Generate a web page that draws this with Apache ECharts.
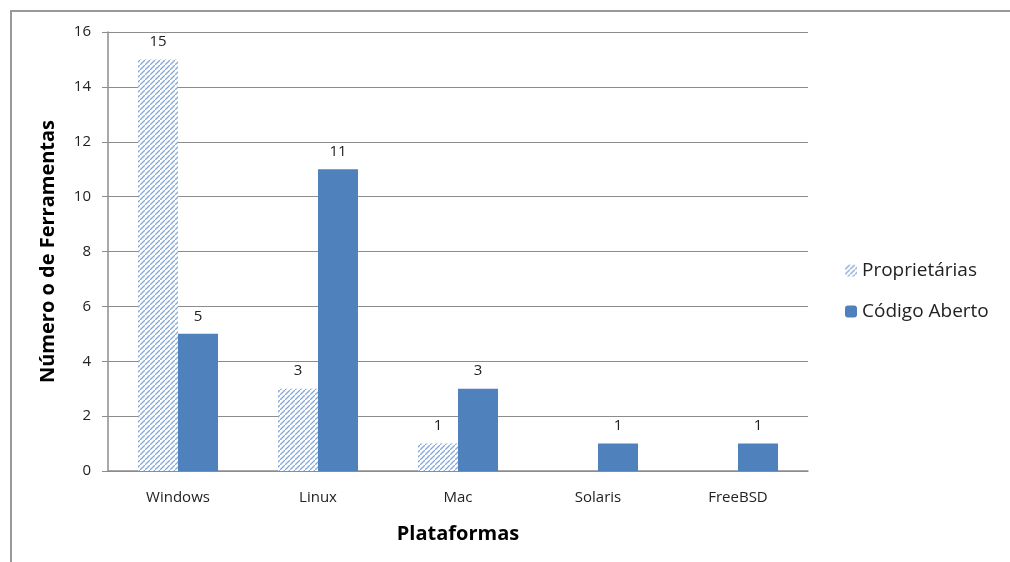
<!DOCTYPE html>
<html>
<head>
<meta charset="utf-8">
<script src="https://cdn.jsdelivr.net/npm/echarts@6/dist/echarts.min.js"></script>
<style>
  html, body { margin: 0; padding: 0; background: #fff; }
  #frame {
    position: absolute; left: 10px; top: 10px; right: 0; bottom: 0;
    border-left: 2px solid #999; border-top: 2px solid #999;
  }
  #chart { position: absolute; left: 0; top: 0; width: 1010px; height: 562px; }
</style>
</head>
<body>
<div id="frame"></div>
<div id="chart"></div>
<script>
  const categories = ['Windows', 'Linux', 'Mac', 'Solaris', 'FreeBSD']
  const proprietarias = [15, 3, 1, null, null]
  const codigoAberto = [5, 11, 3, 1, 1]
  const yTicks = { min: 0, max: 16, interval: 2 }

  // hatch pattern for the first series
  function makeHatch () {
    const s = 5
    const c = document.createElement('canvas')
    c.width = s
    c.height = s
    const ctx = c.getContext('2d')
    ctx.fillStyle = '#ffffff'
    ctx.fillRect(0, 0, s, s)
    ctx.strokeStyle = '#85a8d6'
    ctx.lineWidth = 1.3
    ctx.beginPath()
    ctx.moveTo(-1, s + 1); ctx.lineTo(s + 1, -1)
    ctx.moveTo(-s - 1, 1); ctx.lineTo(1, -s - 1)
    ctx.moveTo(s - 1, 2 * s + 1); ctx.lineTo(2 * s + 1, s - 1)
    ctx.stroke()
    return c
  }

  const font = '"Open Sans", Lato, sans-serif'
  const mychart = echarts.init(document.getElementById('chart'))
  const labelStyle = { show: true, position: 'top', color: '#222', fontSize: 15, fontFamily: font, distance: 10 }

  mychart.setOption({
    animation: false,
    textStyle: { fontFamily: font },
    grid: { left: 108, right: 202, top: 32, bottom: 91 },
    legend: {
      orient: 'vertical',
      left: 840,
      top: 256,
      itemWidth: 12,
      itemHeight: 12,
      itemGap: 22,
      textStyle: { fontSize: 19, color: '#222', fontFamily: font },
      data: ['Proprietárias', 'Código Aberto']
    },
    xAxis: {
      type: 'category',
      data: categories,
      name: 'Plataformas',
      nameLocation: 'middle',
      nameGap: 53,
      nameTextStyle: { fontSize: 20, fontWeight: 'bold', color: '#000' },
      axisLine: { lineStyle: { color: '#8c8c8c', width: 1.5 } },
      axisTick: { length: 7, lineStyle: { color: '#8c8c8c' } },
      axisLabel: { color: '#222', fontSize: 15, margin: 19 }
    },
    yAxis: {
      type: 'value',
      min: yTicks.min,
      max: yTicks.max,
      interval: yTicks.interval,
      name: 'Número o de Ferramentas',
      nameLocation: 'middle',
      nameGap: 50,
      nameTextStyle: { fontSize: 20, fontWeight: 'bold', color: '#000' },
      axisLine: { show: true, lineStyle: { color: '#8c8c8c', width: 1.5 } },
      axisTick: { show: true, length: 6, lineStyle: { color: '#8c8c8c' } },
      axisLabel: { color: '#222', fontSize: 15, margin: 17 },
      splitLine: { lineStyle: { color: '#8c8c8c', width: 1 } }
    },
    series: [
      {
        name: 'Proprietárias',
        type: 'bar',
        data: proprietarias,
        barWidth: 40,
        barGap: '0%',
        itemStyle: { color: { image: makeHatch(), repeat: 'repeat' } },
        label: labelStyle
      },
      {
        name: 'Código Aberto',
        type: 'bar',
        data: codigoAberto,
        barWidth: 40,
        itemStyle: { color: '#4f81bd' },
        label: labelStyle
      }
    ]
  })
  window.addEventListener('resize', function () {
    mychart.resize()
  })
</script>
</body>
</html>
